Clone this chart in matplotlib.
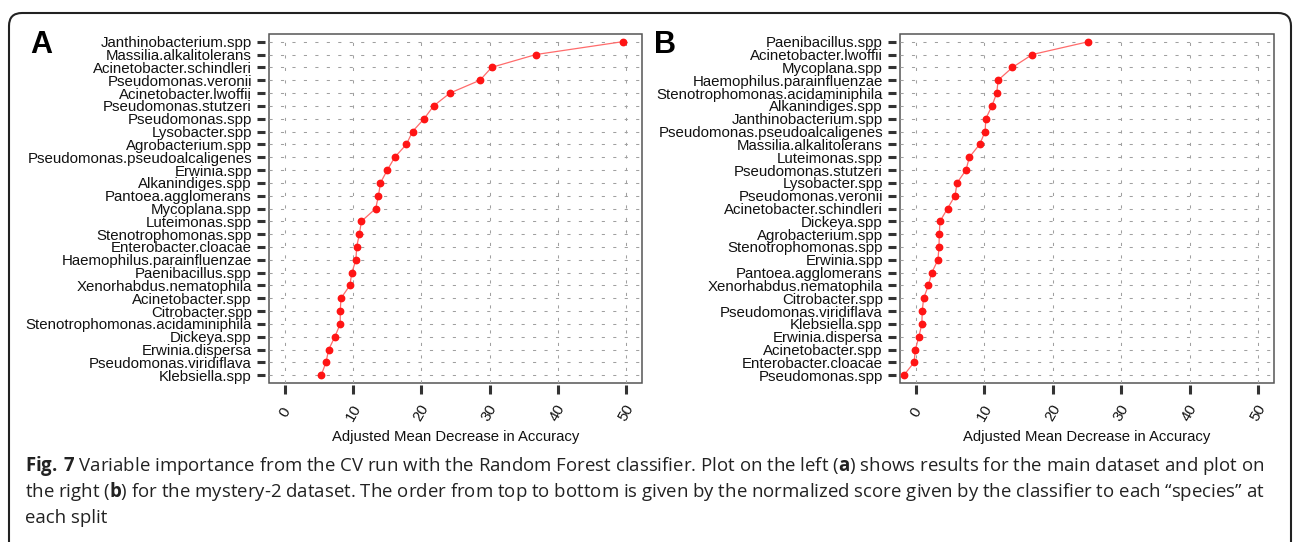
import numpy as np
import matplotlib
matplotlib.use('Agg')
import matplotlib.pyplot as plt
from matplotlib.patches import FancyBboxPatch
from matplotlib.transforms import IdentityTransform

# 数据：从上到下的顺序
labels_a = ['Janthinobacterium.spp', 'Massilia.alkalitolerans', 'Acinetobacter.schindleri',
            'Pseudomonas.veronii', 'Acinetobacter.lwoffii', 'Pseudomonas.stutzeri',
            'Pseudomonas.spp', 'Lysobacter.spp', 'Agrobacterium.spp',
            'Pseudomonas.pseudoalcaligenes', 'Erwinia.spp', 'Alkanindiges.spp',
            'Pantoea.agglomerans', 'Mycoplana.spp', 'Luteimonas.spp',
            'Stenotrophomonas.spp', 'Enterobacter.cloacae', 'Haemophilus.parainfluenzae',
            'Paenibacillus.spp', 'Xenorhabdus.nematophila', 'Acinetobacter.spp',
            'Citrobacter.spp', 'Stenotrophomonas.acidaminiphila', 'Dickeya.spp',
            'Erwinia.dispersa', 'Pseudomonas.viridiflava', 'Klebsiella.spp']
values_a = [49.5, 36.8, 30.3, 28.6, 24.2, 21.8, 20.4, 18.7, 17.8, 16.1, 15.0, 14.0,
            13.7, 13.3, 11.2, 10.9, 10.5, 10.4, 9.8, 9.5, 8.2, 8.1, 8.1, 7.3, 6.4, 6.0, 5.3]

labels_b = ['Paenibacillus.spp', 'Acinetobacter.lwoffii', 'Mycoplana.spp',
            'Haemophilus.parainfluenzae', 'Stenotrophomonas.acidaminiphila', 'Alkanindiges.spp',
            'Janthinobacterium.spp', 'Pseudomonas.pseudoalcaligenes', 'Massilia.alkalitolerans',
            'Luteimonas.spp', 'Pseudomonas.stutzeri', 'Lysobacter.spp',
            'Pseudomonas.veronii', 'Acinetobacter.schindleri', 'Dickeya.spp',
            'Agrobacterium.spp', 'Stenotrophomonas.spp', 'Erwinia.spp',
            'Pantoea.agglomerans', 'Xenorhabdus.nematophila', 'Citrobacter.spp',
            'Pseudomonas.viridiflava', 'Klebsiella.spp', 'Erwinia.dispersa',
            'Acinetobacter.spp', 'Enterobacter.cloacae', 'Pseudomonas.spp']
values_b = [25.2, 17.0, 14.1, 12.0, 11.8, 11.1, 10.2, 10.1, 9.3, 7.8, 7.3, 6.0,
            5.7, 4.6, 3.5, 3.4, 3.35, 3.2, 2.3, 1.8, 1.1, 0.9, 0.85, 0.4, -0.1, -0.3, -1.8]

xticks = [0, 10, 20, 30, 40, 50]
xlabel = 'Adjusted Mean Decrease in Accuracy'

W, H = 1293, 542
plt.rcParams['font.family'] = ['Liberation Sans', 'DejaVu Sans']
plt.rcParams['mathtext.fontset'] = 'custom'
plt.rcParams['mathtext.rm'] = 'Open Sans'
plt.rcParams['mathtext.bf'] = 'Open Sans:bold'

fig = plt.figure(figsize=(W / 100, H / 100), dpi=100)
fig.patch.set_facecolor('white')


def box(l, t, r, b):
    # 像素坐标 -> figure 比例
    return [l / W, 1 - b / H, (r - l) / W, (b - t) / H]


def panel(ax, labels, vals):
    n = len(labels)
    ypos = np.arange(n)[::-1]
    # 先移动坐标轴（会重置刻度），再设刻度标签
    for s in ax.spines.values():
        s.set_visible(False)
    ax.spines['left'].set_position(('outward', 2.9))
    ax.spines['bottom'].set_position(('outward', 1.1))
    ax.patch.set_edgecolor('#555555')
    ax.patch.set_linewidth(1.1)

    ax.plot(vals, ypos, color='#ff6b6b', lw=0.9, zorder=3)
    ax.plot(vals, ypos, 'o', color='#ff1414', ms=4.6, zorder=4)
    ax.set_xlim(-2.35, 52.35)
    ax.set_ylim(-0.6, n - 1 + 0.6)

    ax.tick_params(axis='y', length=5.8, width=2.2, color='#333333', pad=3.6)
    ax.tick_params(axis='x', length=6.5, width=2.2, color='#333333', pad=13.7)
    ax.set_yticks(ypos)
    ax.set_yticklabels(labels, fontsize=10.8, color='#111111')
    ax.set_xticks(xticks)
    ax.set_xticklabels([str(t) for t in xticks], rotation=60, rotation_mode='anchor',
                       ha='center', va='center', fontsize=10.8, color='#111111')

    ax.set_axisbelow(True)
    ax.grid(True, axis='y', color='#a0a0a0', lw=0.75, ls=(0, (3, 8)))
    ax.grid(True, axis='x', color='#a0a0a0', lw=0.75, ls=(0, (3, 9)))
    ax.set_xlabel(xlabel, fontsize=10.7, color='#111111')
    ax.xaxis.set_label_coords(0.5, -54 / 349)
    ax.xaxis.label.set_va('center')


ax_a = fig.add_axes(box(269, 34, 642, 383))
panel(ax_a, labels_a, values_a)
ax_b = fig.add_axes(box(900, 34, 1274, 383))
panel(ax_b, labels_b, values_b)

# 面板字母
fig.text(30 / W, 1 - 53 / H, 'A', fontsize=22, fontweight='bold', ha='left', va='baseline')
fig.text(654 / W, 1 - 53 / H, 'B', fontsize=22, fontweight='bold', ha='left', va='baseline')

# 外框（圆角）
frame = FancyBboxPatch((9, -30), 1282, H - 13 + 30, boxstyle='round,pad=0,rounding_size=13',
                       transform=IdentityTransform(), fc='none', ec='#222222', lw=1.5)
fig.add_artist(frame)

# 图注
caption = [
    r'$\mathbf{Fig.\,7}$ Variable importance from the CV run with the Random Forest classifier. '
    r'Plot on the left ($\mathbf{a}$) shows results for the main dataset and plot on',
    r'the right ($\mathbf{b}$) for the mystery-2 dataset. The order from top to bottom is given by '
    r'the normalized score given by the classifier to each “species” at',
    'each split',
]
for i, line in enumerate(caption):
    fig.text(25 / W, 1 - (471 + 26 * i) / H, line, fontsize=13.4, family='Open Sans',
             color='#222222', ha='left', va='baseline')

fig.savefig('out.png', dpi=100)
